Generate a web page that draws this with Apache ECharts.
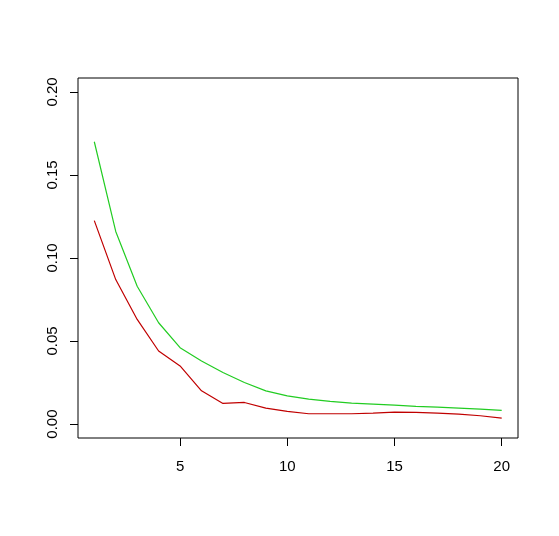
<!DOCTYPE html>
<html>
<head>
<meta charset="utf-8">
<script src="https://cdn.jsdelivr.net/npm/echarts@6/dist/echarts.min.js"></script>
<style>
  html, body { margin: 0; padding: 0; background: #fff; }
  #chart { width: 559px; height: 536px; }
</style>
</head>
<body>
<div id="chart"></div>
<script>
var xs = [1, 2, 3, 4, 5, 6, 7, 8, 9, 10, 11, 12, 13, 14, 15, 16, 17, 18, 19, 20];
var greenVals = [0.170, 0.116, 0.083, 0.061, 0.046, 0.038, 0.031, 0.025, 0.020, 0.017,
                 0.015, 0.0136, 0.0126, 0.012, 0.0114, 0.0106, 0.0102, 0.0096, 0.009, 0.0082];
var redVals = [0.1225, 0.087, 0.063, 0.044, 0.035, 0.020, 0.0124, 0.013, 0.0096, 0.0076,
               0.0062, 0.0062, 0.0062, 0.0066, 0.0072, 0.007, 0.0066, 0.006, 0.005, 0.0036];
var xTicks = [5, 10, 15, 20];
var yTicks = [0, 0.05, 0.10, 0.15, 0.20];

function pairs(vals) {
    return xs.map(function (x, i) { return [x, vals[i]]; });
}

var chart = echarts.init(document.getElementById('chart'));
var option = {
    animation: false,
    backgroundColor: '#fff',
    grid: {
        left: 78, top: 78, right: 41, bottom: 98,
        show: true,
        borderColor: '#000',
        borderWidth: 1,
        backgroundColor: 'transparent'
    },
    xAxis: {
        type: 'value',
        min: 0.24, max: 20.76,
        axisLine: { show: false, onZero: false },
        splitLine: { show: false },
        axisTick: {
            show: true, inside: false, length: 8,
            customValues: xTicks,
            lineStyle: { color: '#000', width: 1 }
        },
        axisLabel: {
            customValues: xTicks,
            margin: 21,
            color: '#000',
            fontSize: 15,
            fontFamily: 'Liberation Sans, Arial, sans-serif',
            formatter: function (v) { return String(v); }
        }
    },
    yAxis: {
        type: 'value',
        min: -0.0084, max: 0.2084,
        axisLine: { show: false, onZero: false },
        splitLine: { show: false },
        axisTick: {
            show: true, inside: false, length: 8,
            customValues: yTicks,
            lineStyle: { color: '#000', width: 1 }
        },
        axisLabel: {
            customValues: yTicks,
            rotate: 90,
            margin: 18,
            color: '#000',
            fontSize: 15,
            fontFamily: 'Liberation Sans, Arial, sans-serif',
            formatter: function (v) { return v.toFixed(2); }
        }
    },
    series: [
        {
            type: 'line',
            data: pairs(greenVals),
            showSymbol: false,
            lineStyle: { color: '#22cc22', width: 1.2 }
        },
        {
            type: 'line',
            data: pairs(redVals),
            showSymbol: false,
            lineStyle: { color: '#c00000', width: 1.2 }
        }
    ]
};
chart.setOption(option);
</script>
</body>
</html>
